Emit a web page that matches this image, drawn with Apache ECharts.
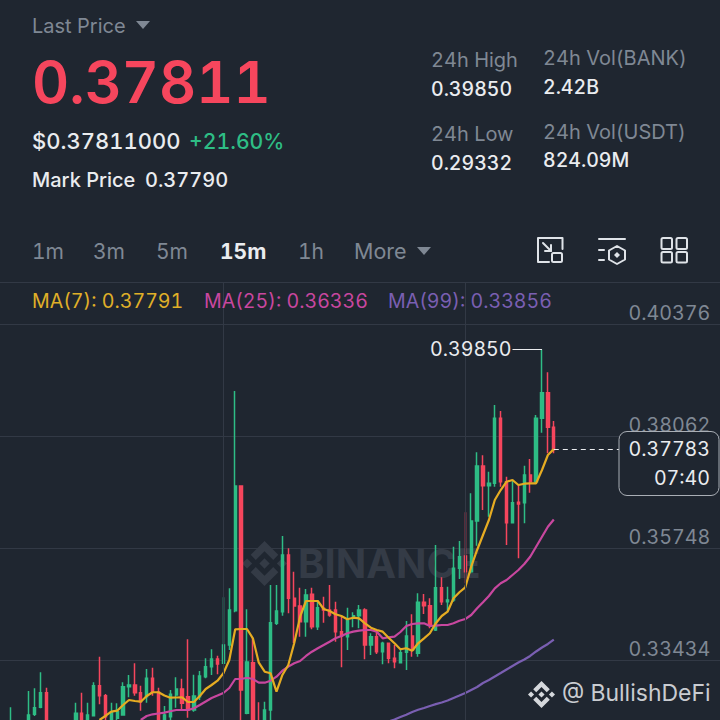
<!DOCTYPE html>
<html>
<head>
<meta charset="utf-8">
<style>html,body{margin:0;padding:0;background:#1f2630}#c{width:720px;height:720px}svg text{font-variant-numeric:tabular-nums !important;font-feature-settings:"tnum" 1 !important}</style>
<script src="https://cdn.jsdelivr.net/npm/echarts@6/dist/echarts.min.js"></script>
</head>
<body>
<div id="c"></div>
<script>
const leadSlots = [null, null];
const opens = [.31988,null,null,.32091,.32312,.32457,.32758,null,null,null,null,.32091,.32333,.32091,.32283,.32903,.32696,.32209,.32229,.32298,.32882,.32917,.32758,.32676,.33056,.32767,.32091,.32262,.32711,.32835,.32676,.32401,.32676,.33089,.33296,.33455,.33366,.33744,.34453,.37029,.32333,.33378,.32091,.32091,.32401,.34192,.34432,.35603,.34709,.34550,.34225,.34791,.34122,.34502,.34467,.34467,.34019,.33915,.34295,.34349,.34467,.33744,.33915,.33605,.33779,.33469,.33378,.33593,.33930,.33572,.34626,.34556,.34054,.34928,.34638,.34674,.35329,.35583,.35258,.36306,.37442,.37035,.37085,.38428,.37118,.36271,.36692,.36684,.37256,.37118,.38428,.38957,.38242];
const closes = [.32091,null,null,.32298,.32448,.32758,.32091,null,null,null,null,.32333,.32091,.32298,.32903,.32696,.32262,.32366,.32366,.32882,.32917,.32758,.32572,.33056,.32767,.32091,.32298,.32725,.32835,.32539,.32401,.32690,.33103,.33296,.33455,.33351,.33744,.34467,.37029,.32814,.33393,.32091,.31988,.32401,.34205,.34446,.35603,.34709,.34550,.34225,.34777,.34122,.34515,.34467,.34364,.34019,.33930,.34246,.34349,.34467,.33744,.33915,.33605,.33779,.33469,.33399,.33585,.33930,.33641,.34626,.34556,.34157,.34928,.34638,.34674,.35329,.35568,.35258,.36306,.37442,.37035,.37085,.38428,.37118,.36271,.36684,.36657,.37256,.37118,.38428,.38957,.38242,.37783];
const lows = [.31884,null,null,.31988,.32277,.32436,.31884,null,null,null,null,.31988,.31988,.31988,.32277,.32519,.32091,.32091,.32091,.32290,.32663,.32696,.32386,.32552,.32696,.31988,.31988,.32153,.32448,.32401,.32242,.32366,.32607,.33056,.33124,.33138,.33351,.33641,.34419,.31988,.32312,.31988,.31884,.31988,.32091,.34157,.34349,.34399,.33779,.33915,.33915,.34068,.34054,.34205,.34329,.33812,.33283,.33641,.34110,.34089,.33448,.33537,.33558,.33345,.33366,.33262,.33366,.33227,.33502,.33502,.34384,.34089,.34033,.34570,.34432,.34638,.35107,.35019,.35225,.35795,.36533,.36395,.37014,.37014,.35810,.36265,.35535,.36258,.36891,.37085,.38130,.37705,.37705];
const highs = [.32457,null,null,.32793,.32849,.33180,.32862,null,null,null,null,.32552,.32758,.32552,.32973,.33502,.32731,.32552,.32539,.32973,.33124,.33366,.32903,.33248,.33275,.32862,.32484,.32814,.33076,.33048,.33862,.33130,.33207,.33469,.33655,.33523,.34729,.34915,.38992,.37029,.34481,.33882,.32560,.32572,.34984,.34984,.35996,.35742,.35258,.34928,.34901,.34928,.34674,.34742,.34984,.34638,.34329,.34515,.34419,.34570,.34502,.33986,.34019,.33812,.33779,.33744,.33641,.34240,.34378,.34812,.34798,.34709,.35810,.35143,.34948,.35775,.35893,.36486,.36878,.37725,.37663,.37324,.38702,.38579,.37221,.37153,.37050,.37448,.37587,.38496,.39850,.39378,.38372];
const ma7 = [null,null,null,null,null,null,null,null,null,null,null,null,null,null,null,.32194,.32277,.32366,.32386,.32504,.32607,.32587,.32572,.32690,.32767,.32767,.32700,.32655,.32659,.32663,.32566,.32566,.32690,.32835,.32917,.33006,.33159,.33434,.34068,.34074,.34074,.33882,.33378,.33192,.33159,.32779,.33124,.33331,.33779,.34329,.34653,.34653,.34653,.34488,.34446,.34378,.34343,.34275,.34308,.34295,.34192,.34101,.34054,.34019,.33895,.33779,.33655,.33676,.33626,.33779,.33882,.33986,.34192,.34343,.34432,.34709,.34833,.34936,.35362,.35707,.36017,.36326,.36740,.36946,.37118,.37153,.37050,.37076,.37085,.37085,.37360,.37669,.37791];
const ma25 = [null,null,null,null,null,null,null,null,null,null,null,null,null,null,null,null,null,null,null,null,null,null,.32194,.32277,.32312,.32329,.32345,.32374,.32401,.32401,.32401,.32436,.32504,.32576,.32649,.32700,.32752,.32855,.33041,.33041,.33068,.33041,.32965,.32965,.33006,.33089,.33213,.33296,.33366,.33413,.33517,.33605,.33676,.33744,.33812,.33882,.33930,.33986,.34019,.34039,.34054,.34054,.34019,.33882,.33903,.33915,.34012,.34136,.34178,.34192,.34192,.34136,.34143,.34157,.34157,.34192,.34246,.34281,.34364,.34502,.34626,.34756,.34915,.35019,.35087,.35190,.35293,.35417,.35568,.35775,.35981,.36188,.36336];
const ma99 = [null,null,null,null,null,null,null,null,null,null,null,null,null,null,null,null,null,null,null,null,null,null,null,null,null,null,null,null,null,null,null,null,null,null,null,null,null,null,null,null,null,null,null,null,null,null,null,null,null,null,null,null,null,null,null,null,null,null,null,null,null,null,null,null,.32163,.32205,.32256,.32304,.32360,.32405,.32442,.32484,.32521,.32556,.32597,.32649,.32700,.32752,.32814,.32876,.32959,.33021,.33093,.33165,.33238,.33310,.33382,.33444,.33517,.33610,.33692,.33765,.33856];
const priceTicks = [0.40376, 0.38062, 0.35748, 0.33434];
const topRule = 0.41244, bottomValue = 0.32194;
const lastPrice = 0.37783, highPrice = 0.39850;
const slotCount = 124;
const categories = Array.from({length: slotCount}, (_, i) => String(i));

const BG='#1f2630', GRID='#323945', GREY='#7f8894', WHITE='#eaecef', GREEN='#2ebd85', RED='#f6465d';
const FF='Inter';
const EMPTY=['-','-','-','-'];
const candle = leadSlots.map(()=>EMPTY).concat(opens.map((o,i)=> o==null ? EMPTY : [o,closes[i],lows[i],highs[i]]));
const pad = a => leadSlots.concat(a);

function T(text,x,y,size,fill,weight,align){
  return {type:'text',x,y,z:50,silent:true,style:{text,fill,font:`${weight||400} ${size}px ${FF}`,align:align||'left',verticalAlign:'middle'}};
}
const LOGO=[
 [[38.73,53.2],[63.32,28.62],[87.92,53.22],[102.22,38.91],[63.32,0],[24.42,38.9]],
 [[0,63.31],[14.3,49],[28.61,63.31],[14.3,77.61]],
 [[38.73,73.41],[63.32,98],[87.92,73.4],[102.23,87.69],[63.33,126.6],[24.42,87.72]],
 [[98,63.31],[112.3,49],[126.61,63.3],[112.3,77.62]],
 [[77.83,63.3],[63.32,48.78],[48.81,63.28],[63.32,77.78]]
];
function logo(x,y,s,fill,z){return LOGO.map(p=>({type:'polygon',z,silent:true,shape:{points:p.map(q=>[x+q[0]*s/126.61,y+q[1]*s/126.61])},style:{fill}}));}
function tri(x,y,w,h,fill){return {type:'polygon',z:50,silent:true,shape:{points:[[x,y],[x+w,y],[x+w/2,y+h]]},style:{fill}};}
const ST={stroke:'#dfe3e8',lineWidth:2,fill:'none',lineCap:'round',lineJoin:'round'};
function pl(points){return {type:'polyline',z:50,silent:true,shape:{points},style:ST};}
function rr(x,y,w,h,r){return {type:'rect',z:50,silent:true,shape:{x,y,width:w,height:h,r},style:ST};}

const elements=[
  {type:'text',x:298,y:563,z:1,silent:true,style:{text:'BINANCE',fill:'#343b46',font:`700 40px ${FF}`,align:'left',verticalAlign:'middle'}},
  ...logo(242,541,45,'#343b46',1),
  T('Last Price',32,26,20,GREY), tri(136,21,14,8,GREY),
  T('0.37811',32,82,57.5,RED,600),
  T('$0.37811000',32,141,22,WHITE,500), T('+21.60%',189,141,21.2,GREEN,500),
  T('Mark Price',32,180,20,WHITE,500), T('0.37790',145,180,20,WHITE,500),
  T('24h High',431,60,20,GREY), T('0.39850',431,89,19.5,WHITE,500),
  T('24h Vol(BANK)',543,58,20,GREY), T('2.42B',543,87,19.5,WHITE,500),
  T('24h Low',431,134,20,GREY), T('0.29332',431,163,19.5,WHITE,500),
  T('24h Vol(USDT)',543,132,20,GREY), T('824.09M',543,160,19.5,WHITE,500),
  T('1m',32,251,21,GREY), T('3m',93,251,21,GREY), T('5m',156,251,21,GREY),
  T('15m',220,251,21,WHITE,700), T('1h',298,251,21,GREY), T('More',354,251,21.5,GREY),
  tri(417,247,14,8,GREY),
  T('MA(7): 0.37791',32,301,19.6,'#e0b028'), T('MA(25): 0.36336',204,301,19.6,'#c8479f'), T('MA(99): 0.33856',388,301,19.6,'#7a5fb2'),
  pl([[562.5,249],[562.5,238],[538,238],[538,262],[549,262]]), rr(552,253,10,9,1.5), pl([[543,243],[551,251]]), pl([[551,245],[551,251],[545,251]]),
  pl([[599,239],[625,239]]), pl([[599,250],[604,250]]), pl([[599,260],[604,260]]),
  {type:'polygon',z:50,silent:true,shape:{points:[[617,246],[625,250.5],[625,259.5],[617,264],[609,259.5],[609,250.5]]},style:ST},
  {type:'polygon',z:50,silent:true,shape:{points:[[617,252],[620,255],[617,258],[614,255]]},style:{fill:'#dfe3e8'}},
  rr(661.5,238,10.5,11,1.5), rr(676.5,238,10.5,11,1.5), rr(661.5,252,10.5,10.5,1.5), rr(676.5,252,10.5,10.5,1.5),
  {type:'rect',z:50,silent:true,shape:{x:619,y:431.5,width:100,height:64,r:8},style:{fill:BG,stroke:'#a9aeb5',lineWidth:1}},
  T('0.37783',710,449,19.6,WHITE,400,'right'), T('07:40',710,477.5,19.6,WHITE,400,'right'),
  ...logo(528,681,27,'#d5d8dc',50), T('@ BullishDeFi',562,693,23,'#c9ccd1',400)
];

const option={
  animation:false, backgroundColor:BG,
  grid:{left:-3.75,top:282,width:731.6,height:438,containLabel:false,outerBoundsMode:'none'},
  xAxis:{type:'category',data:categories,boundaryGap:true,axisLine:{show:false},axisTick:{show:false},axisLabel:{show:false},splitLine:{show:false}},
  yAxis:{type:'value',position:'right',min:bottomValue,max:topRule,scale:true,
    axisLine:{show:false},
    axisTick:{show:false,customValues:priceTicks.concat([topRule])},
    axisLabel:{inside:true,margin:17.5,color:GREY,fontSize:19.7,fontFamily:FF,verticalAlign:'bottom',padding:[0,0,1,0],
      customValues:priceTicks,formatter:v=>(v+1e-7).toFixed(5)},
    splitLine:{show:true,lineStyle:{color:GRID,width:1}}},
  series:[
    {name:'Rules',type:'line',data:[],z:1,silent:true,symbol:'none',
      markLine:{silent:true,symbol:'none',animation:false,label:{show:false},lineStyle:{color:GRID,width:1,type:'solid'},data:[{xAxis:38},{xAxis:79}]}},
    {name:'Price',type:'candlestick',data:candle,barWidth:2.8,z:2,
      itemStyle:{color:GREEN,color0:RED,borderColor:GREEN,borderColor0:RED,borderWidth:1.5}},
    {name:'MA(99)',type:'line',data:pad(ma99),showSymbol:false,symbol:'none',z:3,lineStyle:{color:'#7a5fb2',width:2.2}},
    {name:'MA(25)',type:'line',data:pad(ma25),showSymbol:false,symbol:'none',z:3,lineStyle:{color:'#c8479f',width:2.2}},
    {name:'MA(7)',type:'line',data:pad(ma7),showSymbol:false,symbol:'none',z:4,lineStyle:{color:'#e6ac22',width:2.2}},
    {name:'Notes',type:'line',data:[],z:5,silent:true,symbol:'none',
      markLine:{silent:true,symbol:'none',animation:false,data:[
        [{coord:[87,highPrice],lineStyle:{color:WHITE,width:1,type:'solid'},
          label:{show:true,position:'start',formatter:highPrice.toFixed(5),color:WHITE,fontSize:19.6,fontFamily:FF,distance:1}},
         {coord:[92,highPrice]}],
        [{coord:[94,lastPrice],lineStyle:{color:WHITE,width:1,type:[5,4]},label:{show:false}},
         {coord:[106,lastPrice]}]
      ]}}
  ],
  graphic:{elements}
};
const chart=echarts.init(document.getElementById('c'),null,{renderer:'svg',width:720,height:720});
chart.setOption(option);
</script>
</body>
</html>
